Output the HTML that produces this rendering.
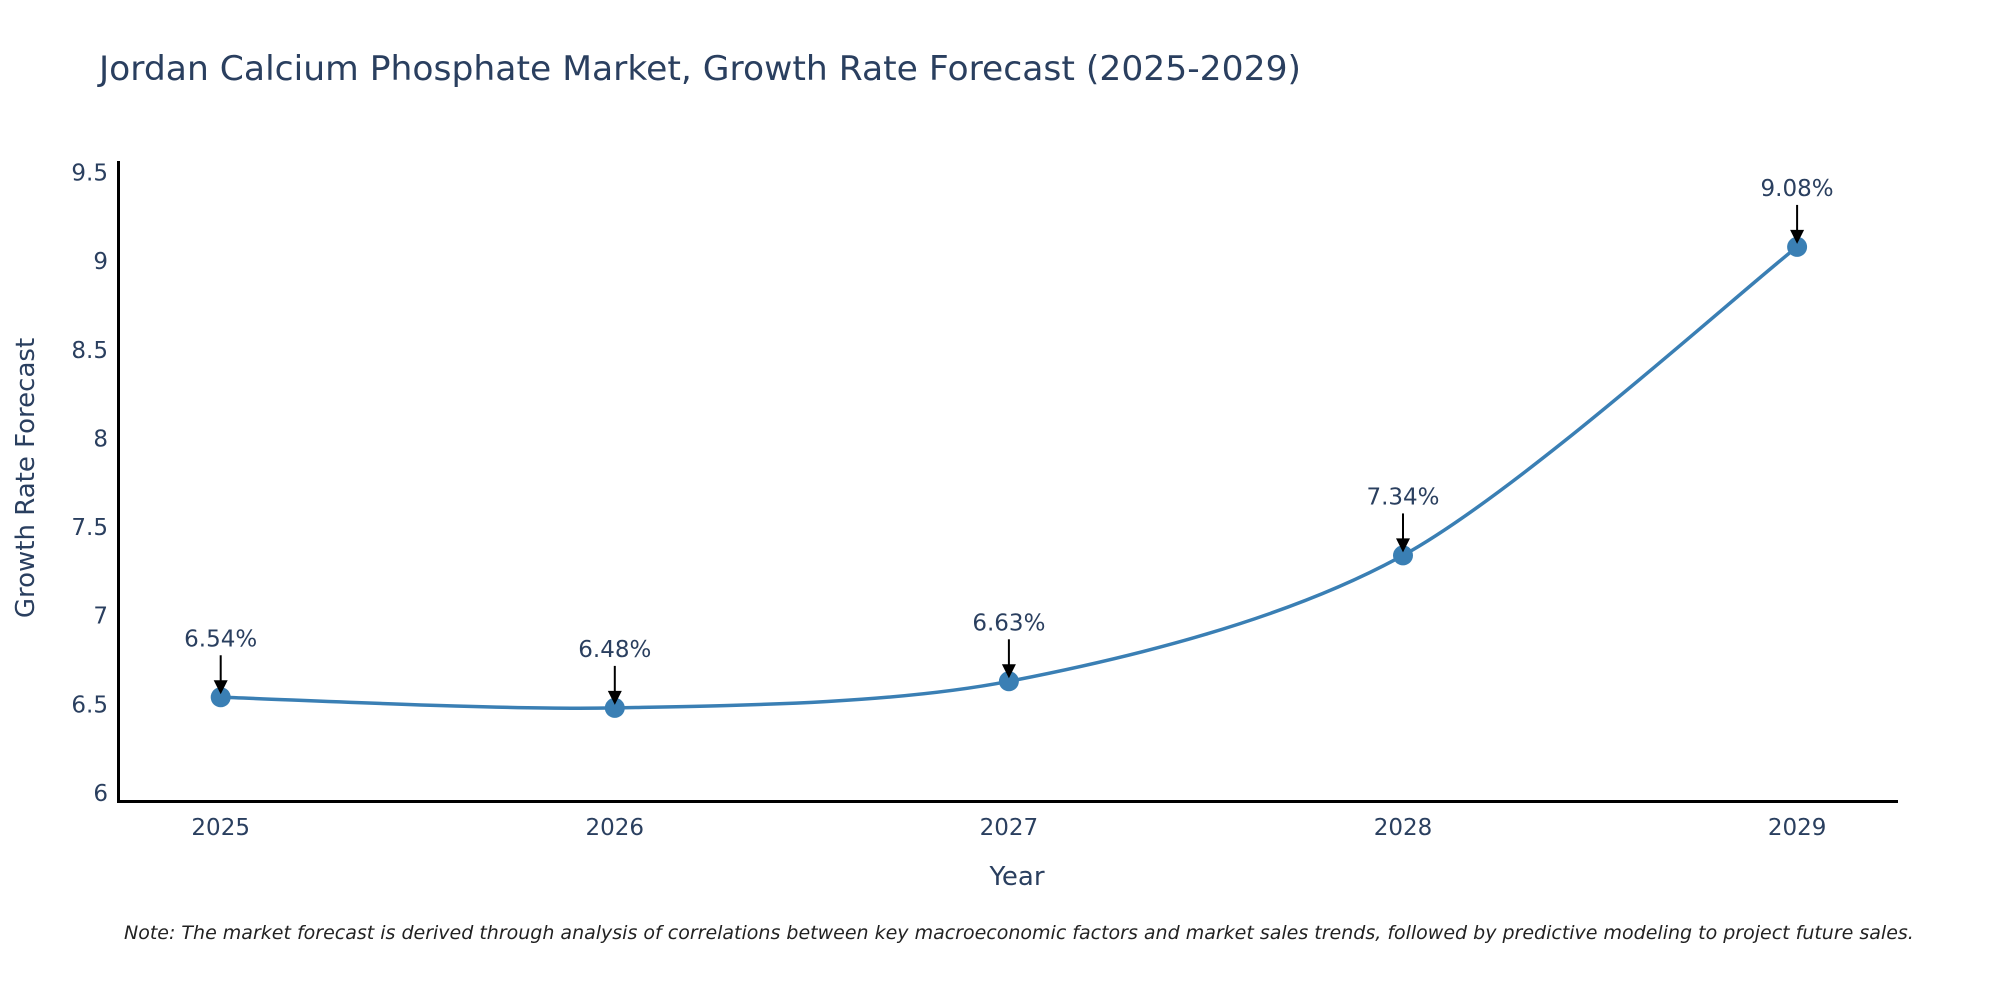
<!DOCTYPE html>
<html><head><meta charset="utf-8"><style>
html,body{margin:0;padding:0;background:#fff;overflow:hidden}
svg{display:block;font-family:"DejaVu Sans","Liberation Sans",sans-serif}
</style></head><body>
<svg id="chart" width="2000" height="1000" viewBox="0 0 2000 1000" xmlns="http://www.w3.org/2000/svg">
<rect width="2000" height="1000" fill="#fff"/>
<text x="99" y="80" font-size="34" fill="#2a3f5f" textLength="1202" lengthAdjust="spacingAndGlyphs">Jordan Calcium Phosphate Market, Growth Rate Forecast (2025-2029)</text>
<g id="yticks"></g>
<g id="xticks"></g>
<line x1="118.5" y1="161" x2="118.5" y2="802" stroke="#000" stroke-width="3"/>
<line x1="117" y1="801.5" x2="1898" y2="801.5" stroke="#000" stroke-width="3"/>
<path id="series" fill="none" stroke="#3a7fb4" stroke-width="3.5"/>
<g id="marks"></g>
<g id="annots"></g>
<text x="1017" y="885" font-size="26" fill="#2a3f5f" text-anchor="middle">Year</text>
<text transform="translate(34,478) rotate(-90)" font-size="26" fill="#2a3f5f" text-anchor="middle">Growth Rate Forecast</text>
<text x="124" y="939" font-size="19" font-style="italic" fill="#222">Note: The market forecast is derived through analysis of correlations between key macroeconomic factors and market sales trends, followed by predictive modeling to project future sales.</text>
</svg>
<script>
const years = [2025, 2026, 2027, 2028, 2029];
const values = [6.54, 6.48, 6.63, 7.34, 9.08];
const labels = ["6.54%", "6.48%", "6.63%", "7.34%", "9.08%"];
const yTicks = [6, 6.5, 7, 7.5, 8, 8.5, 9, 9.5];
const yTickLabels = ["6", "6.5", "7", "7.5", "8", "8.5", "9", "9.5"];

const NS = "http://www.w3.org/2000/svg";
function xs(yr){ return 220.7 + (yr - 2025) * 394.1; }
function ys(v){ return 793 - (v - 6) * 177.3; }
function mk(tag, attrs, parent){ const e=document.createElementNS(NS,tag); for(const k in attrs) e.setAttribute(k, attrs[k]); parent.appendChild(e); return e; }

const yg = document.getElementById('yticks');
yTicks.forEach((t,i)=>{
  const el = mk('text',{x:108,y:ys(t)+8,'font-size':23,fill:'#2a3f5f','text-anchor':'end'},yg);
  
  
  el.textContent = yTickLabels[i];
});
const xg = document.getElementById('xticks');
years.forEach(yr=>{
  const el = mk('text',{x:xs(yr),y:835,'font-size':23,fill:'#2a3f5f','text-anchor':'middle'},xg);
  
  
  el.textContent = String(yr);
});

const pts = years.map((yr,i)=>[xs(yr), ys(values[i])]);
let d = 'M' + pts[0][0] + ',' + pts[0][1];
const s = 0.6;
for(let i=0;i<pts.length-1;i++){
  const p0 = pts[i-1]||pts[i], p1=pts[i], p2=pts[i+1], p3=pts[i+2]||pts[i+1];
  const c1=[p1[0]+(p2[0]-p0[0])*s/4, p1[1]+(p2[1]-p0[1])*s/4];
  const c2=[p2[0]-(p3[0]-p1[0])*s/4, p2[1]-(p3[1]-p1[1])*s/4];
  d += ' C'+c1[0]+','+c1[1]+' '+c2[0]+','+c2[1]+' '+p2[0]+','+p2[1];
}
document.getElementById('series').setAttribute('d', d);

const mg = document.getElementById('marks');
const ag = document.getElementById('annots');
pts.forEach((p,i)=>{
  const c = mk('circle',{cx:p[0],cy:p[1],r:10,fill:'#3a7fb4'},mg);
  
  
  const ln = mk('line',{x1:p[0],y1:p[1]-42,x2:p[0],y2:p[1]-14,stroke:'#000','stroke-width':2},ag);
  
  
  const hd = mk('polygon',{points:(p[0]-7)+','+(p[1]-17)+' '+(p[0]+7)+','+(p[1]-17)+' '+p[0]+','+(p[1]-3),fill:'#000'},ag);
  
  
  const tx = mk('text',{x:p[0],y:p[1]-51,'font-size':23,fill:'#2a3f5f','text-anchor':'middle'},ag);
  
  
  tx.textContent = labels[i];
});
</script>
</body></html>
